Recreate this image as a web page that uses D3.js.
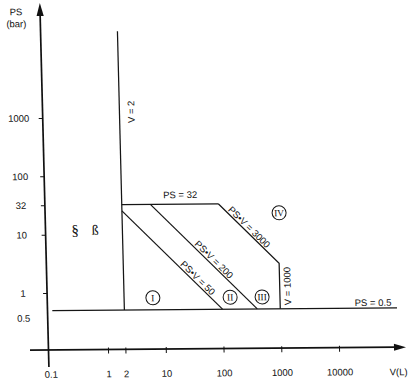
<!DOCTYPE html>
<html>
<head>
<meta charset="utf-8">
<script src="https://cdn.jsdelivr.net/npm/d3@7"></script>
<style>
body { margin: 0; background: #fff; }
text { font-family: "Liberation Sans", Arial, sans-serif; font-size: 9.5px; fill: #111; }
.serif { font-family: "Liberation Serif", "DejaVu Serif", serif; }
</style>
</head>
<body>
<svg id="chart" width="416" height="387"></svg>
<script>
// tick values
var xTicks = [0.1, 1, 2, 10, 100, 1000, 10000];
var yTicks = [0.5, 1, 10, 32, 100, 1000];

// category boundaries, as [V, PS] points
var lineV2 = [[2, 0.5], [2, 30000]];
var linePS05 = [[0.113, 0.5], [105000, 0.5]];
var linePS32 = [[2, 32], [93.75, 32]];
var line3000 = [[93.75, 32], [1000, 3], [1000, 0.5]];
var line200 = [[6.25, 32], [400, 0.5]];
var line50 = [[2, 25], [100, 0.5]];

// category markers
var zoneNames = ["I", "II", "III", "IV"];
var zoneV = [6.3, 137, 490, 1050];
var zonePS = [0.8, 0.8, 0.8, 22];

// diagonal labels, anchored on their line
var diagText = ["PS\u2022V = 3000", "PS\u2022V = 200", "PS\u2022V = 50"];
var diagV = [272, 64.7, 33.4];
var diagPS = [11.0, 3.09, 1.5];

var svg = d3.select("#chart");

// the scan is slightly skewed, so is the drawing
var x0 = 48.5, y0 = 350, k1 = 0.025, k2 = -0.008;
var g = svg.append("g")
  .attr("transform", `matrix(1, ${k2}, ${k1}, 1, ${-k1 * y0}, ${-k2 * x0})`);

var x = d3.scaleLog().domain([1, 10000]).range([108, 339]);
var y = d3.scaleLog().domain([1, 1000]).range([293, 118]);

// axes
g.append("path")
  .attr("d", `M${x0},367 L${x0},13`)
  .attr("stroke", "#111").attr("stroke-width", 1.7).attr("fill", "none");
g.append("path")
  .attr("d", `M${x0},3 L${x0 - 3.6},16 L${x0 + 3.6},16 Z`)
  .attr("fill", "#111");
g.append("path")
  .attr("d", `M30,${y0} L396,${y0}`)
  .attr("stroke", "#111").attr("stroke-width", 1.7).attr("fill", "none");
g.append("path")
  .attr("d", `M406,${y0} L394,${y0 - 3.4} L394,${y0 + 3.4} Z`)
  .attr("fill", "#111");

var yAxis = g.append("g")
  .attr("transform", `translate(${x0},0)`)
  .call(d3.axisLeft(y).tickValues(yTicks).tickFormat(d => d).tickSize(4));
yAxis.select(".domain").remove();
yAxis.attr("font-family", null).attr("font-size", null);
yAxis.selectAll("line").attr("stroke", "#111");
yAxis.selectAll("text").attr("x", -24).attr("text-anchor", "middle").attr("fill", "#111");
yAxis.selectAll(".tick").filter(d => d === 0.5).call(t => {
  t.select("line").remove();
  t.select("text").attr("dy", "1.1em");
});

var xAxis = g.append("g")
  .attr("transform", `translate(0,${y0})`)
  .call(d3.axisBottom(x).tickValues(xTicks).tickFormat(d => d).tickSize(4).tickPadding(17));
xAxis.select(".domain").remove();
xAxis.attr("font-family", null).attr("font-size", null);
xAxis.selectAll("line").attr("stroke", "#111").attr("y1", -2);
xAxis.selectAll("text").attr("fill", "#111");
xAxis.selectAll(".tick").filter(d => d === 0.1).select("line").remove();

// axis titles
g.append("text").attr("x", x0 - 24).attr("y", 15).attr("text-anchor", "middle").text("PS");
g.append("text").attr("x", x0 - 24).attr("y", 27).attr("text-anchor", "middle").text("(bar)");
g.append("text").attr("x", 398).attr("y", y0 + 28).attr("text-anchor", "middle").text("V(L)");

// boundary lines
var line = d3.line().x(d => x(d[0])).y(d => y(d[1]));
[lineV2, linePS05, linePS32, line3000, line200, line50].forEach(function(pts) {
  g.append("path")
    .attr("d", line(pts))
    .attr("fill", "none")
    .attr("stroke", "#151515")
    .attr("stroke-width", 1.25);
});

// line labels
g.append("text")
  .attr("transform", `translate(${x(2) + 15},${y(1238)}) rotate(-90)`)
  .attr("text-anchor", "middle").text("V = 2");
g.append("text")
  .attr("transform", `translate(${x(1000) + 11},${y(1.22)}) rotate(-90)`)
  .attr("text-anchor", "middle").text("V = 1000");
g.append("text")
  .attr("x", x(20.7)).attr("y", y(32) - 6)
  .attr("text-anchor", "middle").text("PS = 32");
g.append("text")
  .attr("x", x(40600)).attr("y", y(0.5) - 2)
  .attr("text-anchor", "middle").text("PS = 0.5");

for (i = 0; i < diagText.length; i++) {
  g.append("text")
    .attr("transform", `translate(${x(diagV[i])},${y(diagPS[i])}) rotate(45.5)`)
    .attr("y", -1.8)
    .attr("text-anchor", "middle")
    .text(diagText[i]);
}

// § area
g.append("text").attr("class", "serif")
  .attr("x", x(0.305)).attr("y", y(11.9)).attr("dy", "0.35em")
  .attr("text-anchor", "middle").style("font-size", "15px")
  .text("\u00a7");
g.append("text").attr("class", "serif")
  .attr("x", x(0.676)).attr("y", y(11.9)).attr("dy", "0.35em")
  .attr("text-anchor", "middle").style("font-size", "14px")
  .text("\u00df");

// category circles
for (i = 0; i < zoneNames.length; i++) {
  var cx = x(zoneV[i]), cy = y(zonePS[i]);
  g.append("circle")
    .attr("cx", cx).attr("cy", cy).attr("r", 7)
    .attr("fill", "none").attr("stroke", "#151515").attr("stroke-width", 1);
  g.append("text").attr("class", "serif")
    .attr("x", cx).attr("y", cy).attr("dy", "0.35em")
    .attr("text-anchor", "middle").style("font-size", "9.5px")
    .text(zoneNames[i]);
}
</script>
</body>
</html>
